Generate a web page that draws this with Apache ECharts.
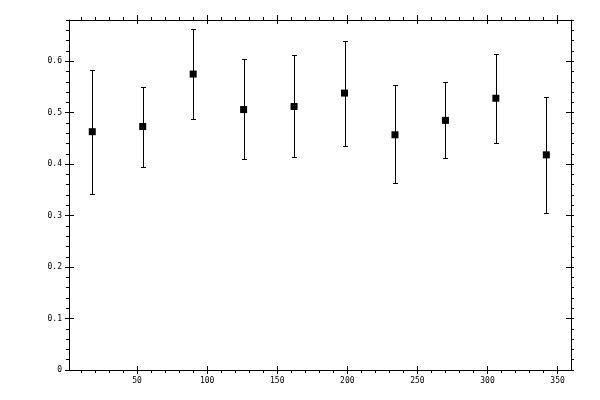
<!DOCTYPE html>
<html>
<head>
<meta charset="utf-8">
<script src="https://cdn.jsdelivr.net/npm/echarts@6/dist/echarts.min.js"></script>
<style>
  html, body { margin: 0; padding: 0; background: #fff; }
  #main { width: 600px; height: 400px; }
</style>
</head>
<body>
<div id="main"></div>
<script>
// data
const xValues = [18, 54, 90, 126, 162, 198, 234, 270, 306, 342];
const yValues = [0.463, 0.473, 0.575, 0.506, 0.512, 0.538, 0.457, 0.485, 0.528, 0.418];
const yLow = [0.342, 0.394, 0.487, 0.409, 0.413, 0.436, 0.364, 0.411, 0.442, 0.305];
const yHigh = [0.582, 0.550, 0.662, 0.604, 0.612, 0.639, 0.553, 0.559, 0.614, 0.530];

// tick labels
const xMajorTicks = [50, 100, 150, 200, 250, 300, 350];
const xMinorTicks = [10, 20, 30, 40, 60, 70, 80, 90, 110, 120, 130, 140, 160, 170, 180, 190,
  210, 220, 230, 240, 260, 270, 280, 290, 310, 320, 330, 340];
const yMajorTicks = [0, 0.1, 0.2, 0.3, 0.4, 0.5, 0.6];
const yMinorTicks = [0.02, 0.04, 0.06, 0.08, 0.12, 0.14, 0.16, 0.18, 0.22, 0.24, 0.26, 0.28,
  0.32, 0.34, 0.36, 0.38, 0.42, 0.44, 0.46, 0.48, 0.52, 0.54, 0.56, 0.58, 0.62, 0.64, 0.66, 0.68];

const X_MIN = 1.4, X_MAX = 359.6;
const Y_MIN = 0, Y_MAX = 0.68;
const FONT = "DejaVu Sans Mono";

// one axis = line + one kind of tick; several are stacked on each side
function makeAxis(kind, pos, opts) {
  const isX = kind === "x";
  return {
    type: "value",
    position: pos,
    min: isX ? X_MIN : Y_MIN,
    max: isX ? X_MAX : Y_MAX,
    axisLine: { show: !!opts.line, onZero: false, lineStyle: { color: "#000", width: 1 } },
    axisTick: {
      show: true,
      inside: !!opts.inside,
      length: opts.len,
      customValues: opts.ticks,
      lineStyle: { color: "#000", width: 1 },
    },
    axisLabel: opts.labels
      ? {
          show: true,
          customValues: opts.ticks,
          color: "#000",
          fontFamily: FONT,
          fontSize: 8,
          margin: 7,
          formatter: (v) => String(+v.toFixed(2)),
        }
      : { show: false },
    splitLine: { show: false },
    minorTick: { show: false },
  };
}

const xAxes = [
  makeAxis("x", "bottom", { line: true, ticks: xMajorTicks, len: 4, labels: true }),
  makeAxis("x", "bottom", { ticks: xMajorTicks, len: 4, inside: true }),
  makeAxis("x", "bottom", { ticks: xMinorTicks, len: 3 }),
  makeAxis("x", "top", { line: true, ticks: xMajorTicks, len: 5 }),
  makeAxis("x", "top", { ticks: xMajorTicks, len: 4, inside: true }),
  makeAxis("x", "top", { ticks: xMinorTicks, len: 3 }),
];
const yAxes = [
  makeAxis("y", "left", { line: true, ticks: yMajorTicks, len: 4, labels: true }),
  makeAxis("y", "left", { ticks: yMajorTicks, len: 5, inside: true }),
  makeAxis("y", "left", { ticks: yMinorTicks, len: 3 }),
  makeAxis("y", "right", { line: true, ticks: yMajorTicks, len: 3 }),
  makeAxis("y", "right", { ticks: yMajorTicks, len: 5, inside: true }),
  makeAxis("y", "right", { ticks: yMinorTicks, len: 3 }),
];

const points = xValues.map((x, i) => [x, yValues[i]]);
const bars = xValues.map((x, i) => [x, yLow[i], yHigh[i]]);

const option = {
  backgroundColor: "#fff",
  animation: false,
  grid: { left: 69, right: 29, top: 20, bottom: 30, containLabel: false },
  xAxis: xAxes,
  yAxis: yAxes,
  series: [
    {
      type: "custom",
      name: "error",
      xAxisIndex: 0,
      yAxisIndex: 0,
      data: bars,
      renderItem: function (params, api) {
        const top = api.coord([api.value(0), api.value(2)]);
        const bot = api.coord([api.value(0), api.value(1)]);
        const x = Math.round(top[0]) + 0.5;
        const y1 = Math.round(top[1]) + 0.5;
        const y2 = Math.round(bot[1]) + 0.5;
        const cap = 2.5;
        const style = { stroke: "#000", lineWidth: 1 };
        return {
          type: "group",
          children: [
            { type: "line", shape: { x1: x, y1: y1, x2: x, y2: y2 }, style: style },
            { type: "line", shape: { x1: x - cap, y1: y1, x2: x + cap, y2: y1 }, style: style },
            { type: "line", shape: { x1: x - cap, y1: y2, x2: x + cap, y2: y2 }, style: style },
          ],
        };
      },
      z: 2,
    },
    {
      type: "scatter",
      name: "value",
      xAxisIndex: 0,
      yAxisIndex: 0,
      data: points,
      symbol: "rect",
      symbolSize: 7,
      itemStyle: { color: "#000", opacity: 1 },
      z: 3,
    },
  ],
};

const chart = echarts.init(document.getElementById("main"));
chart.setOption(option);
</script>
</body>
</html>
